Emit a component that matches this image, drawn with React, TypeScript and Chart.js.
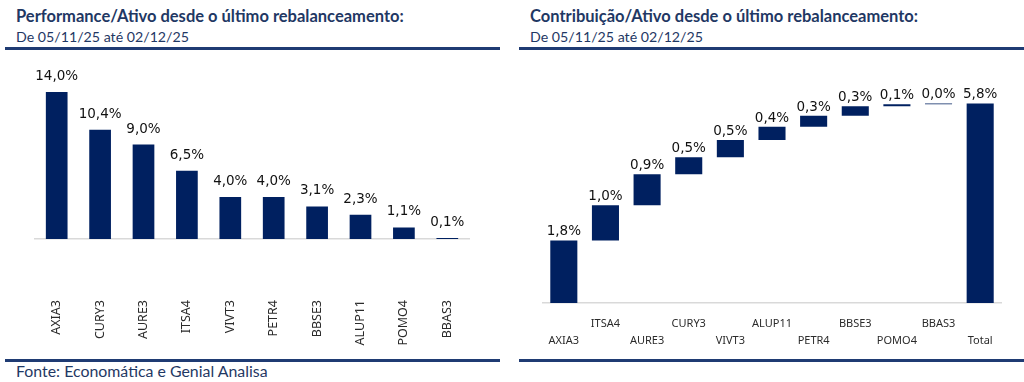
import React, { useEffect, useRef } from "react";
import { Chart, registerables } from "chart.js";

Chart.register(...registerables);

const perfCategories = ["AXIA3", "CURY3", "AURE3", "ITSA4", "VIVT3", "PETR4", "BBSE3", "ALUP11", "POMO4", "BBAS3"];
const perfValues = [14.0, 10.4, 9.0, 6.5, 4.0, 4.0, 3.1, 2.3, 1.1, 0.1];

const contribCategories = ["AXIA3", "ITSA4", "AURE3", "CURY3", "VIVT3", "ALUP11", "PETR4", "BBSE3", "POMO4", "BBAS3"];
const contribValues = [1.82, 1.02, 0.9, 0.5, 0.5, 0.38, 0.32, 0.28, 0.06, 0.02];
const totalLabel = "Total";
const totalValue = 5.8;

const NAVY = "#002060";
const TEXT_NAVY = "#1F3864";
const LINE_NAVY = "#1F3B73";

const fmt = (v: number) => v.toFixed(1).replace(".", ",") + "%";

function makeLabelPlugin(values: number[], gap: number) {
  return {
    id: "valueLabels",
    afterDatasetsDraw(chart: any) {
      const ctx = chart.ctx;
      const meta = chart.getDatasetMeta(0);
      ctx.save();
      ctx.font = "13.5px 'DejaVu Sans'";
      ctx.fillStyle = "#111111";
      ctx.textAlign = "center";
      ctx.textBaseline = "alphabetic";
      meta.data.forEach((el: any, i: number) => {
        ctx.fillText(fmt(values[i]), el.x, el.y - gap);
      });
      ctx.restore();
    },
  };
}

function PerfChart() {
  const ref = useRef<HTMLCanvasElement>(null);
  useEffect(() => {
    const chart = new Chart(ref.current!, {
      type: "bar",
      data: {
        labels: perfCategories,
        datasets: [
          {
            data: perfValues,
            backgroundColor: NAVY,
            categoryPercentage: 1,
            barPercentage: 0.5,
          },
        ],
      },
      options: {
        animation: false,
        responsive: false,
        layout: { padding: { left: 35, right: 43, top: 10.5, bottom: 0 } },
        plugins: { legend: { display: false }, tooltip: { enabled: false } },
        scales: {
          x: {
            grid: { display: false, drawTicks: false },
            border: { display: true, color: "#D9D9D9", width: 1.5 },
            ticks: {
              autoSkip: false,
              minRotation: 90,
              maxRotation: 90,
              padding: 61,
              color: "#2b2b2b",
              font: { family: "'Noto Sans'", size: 12.5 },
            },
            afterFit: (axis: any) => {
              axis.height = 117;
              axis.paddingLeft = 0;
              axis.paddingRight = 0;
            },
          },
          y: {
            display: false,
            min: 0,
            max: 17,
          },
        },
      },
      plugins: [makeLabelPlugin(perfValues, 12)],
    });
    return () => chart.destroy();
  }, []);
  return <canvas ref={ref} width={512} height={306} style={{ position: "absolute", left: 0, top: 50 }} />;
}

function ContribChart() {
  const ref = useRef<HTMLCanvasElement>(null);
  useEffect(() => {
    const floats: number[][] = [];
    let cum = 0;
    contribValues.forEach((v) => {
      floats.push([cum, cum + v]);
      cum += v;
    });
    floats.push([0, totalValue]);
    const allLabels = [...contribCategories, totalLabel].map((l, i) => (i % 2 === 0 ? ["", l] : [l, ""]));
    const labelValues = [...contribValues, totalValue];
    const chart = new Chart(ref.current!, {
      type: "bar",
      data: {
        labels: allLabels as any,
        datasets: [
          {
            data: floats as any,
            backgroundColor: NAVY,
            categoryPercentage: 1,
            barPercentage: 0.65,
          },
        ],
      },
      options: {
        animation: false,
        responsive: false,
        layout: { padding: { left: 31, right: 23, top: 12.2, bottom: 0 } },
        plugins: { legend: { display: false }, tooltip: { enabled: false } },
        scales: {
          x: {
            grid: { display: false, drawTicks: false },
            border: { display: true, color: "#D9D9D9", width: 1.5 },
            ticks: {
              autoSkip: false,
              maxRotation: 0,
              minRotation: 0,
              padding: 12,
              color: "#2b2b2b",
              font: { family: "'Noto Sans'", size: 11, lineHeight: 1.55 },
            },
            afterFit: (axis: any) => {
              axis.height = 53;
              axis.paddingLeft = 0;
              axis.paddingRight = 0;
            },
          },
          y: {
            display: false,
            min: 0,
            max: 7,
          },
        },
      },
      plugins: [makeLabelPlugin(labelValues, 5)],
    });
    return () => chart.destroy();
  }, []);
  return <canvas ref={ref} width={512} height={306} style={{ position: "absolute", left: 512, top: 50 }} />;
}

const titleStyle: React.CSSProperties = {
  position: "absolute",
  fontFamily: "Lato",
  fontWeight: 700,
  fontSize: 16.5,
  lineHeight: "16.5px",
  color: TEXT_NAVY,
  whiteSpace: "nowrap",
};
const subStyle: React.CSSProperties = {
  position: "absolute",
  fontFamily: "Lato",
  fontWeight: 400,
  fontSize: 14.2,
  lineHeight: "14.2px",
  color: TEXT_NAVY,
  whiteSpace: "nowrap",
};
const footStyle: React.CSSProperties = {
  position: "absolute",
  fontFamily: "Lato",
  fontWeight: 400,
  fontSize: 15.9,
  lineHeight: "15.9px",
  color: TEXT_NAVY,
  whiteSpace: "nowrap",
};

export default function App() {
  return (
    <div
      style={{
        position: "fixed",
        left: 0,
        top: 0,
        width: 1024,
        height: 382,
        background: "#ffffff",
        overflow: "hidden",
      }}
    >
      <div style={{ ...titleStyle, left: 16, top: 8 }}>Performance/Ativo desde o último rebalanceamento:</div>
      <div style={{ ...subStyle, left: 16, top: 29.7 }}>De 05/11/25 até 02/12/25</div>
      <div style={{ position: "absolute", left: 5, top: 47, width: 495, height: 2.5, background: LINE_NAVY }} />

      <div style={{ ...titleStyle, left: 530, top: 8 }}>Contribuição/Ativo desde o último rebalanceamento:</div>
      <div style={{ ...subStyle, left: 530, top: 29.7 }}>De 05/11/25 até 02/12/25</div>
      <div style={{ position: "absolute", left: 519, top: 47, width: 505, height: 2.5, background: LINE_NAVY }} />

      <PerfChart />
      <ContribChart />

      <div style={{ position: "absolute", left: 5, top: 359, width: 495, height: 2.5, background: LINE_NAVY }} />
      <div style={{ position: "absolute", left: 519, top: 359, width: 505, height: 2.5, background: LINE_NAVY }} />
      <div style={{ ...footStyle, left: 16, top: 363.2 }}>Fonte: Economática e Genial Analisa</div>
    </div>
  );
}
